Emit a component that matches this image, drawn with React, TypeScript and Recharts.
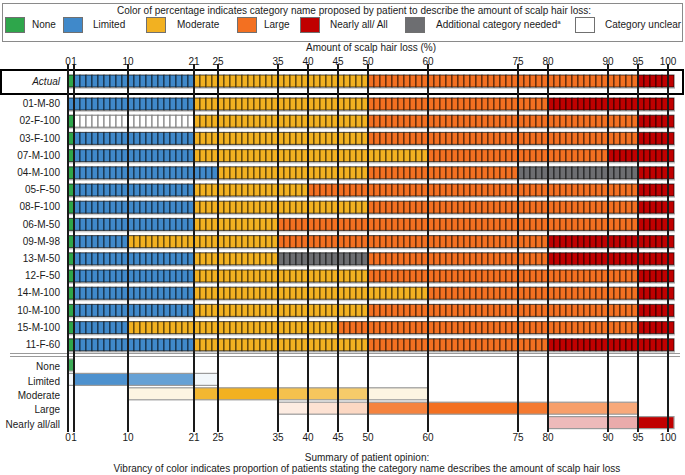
import React from 'react';
import { BarChart, ComposedChart, Bar, XAxis, YAxis, CartesianGrid } from 'recharts';

type Cat = 'None' | 'Limited' | 'Moderate' | 'Large' | 'NearlyAll' | 'Additional' | 'Unclear';

const CAT_COLORS: Record<Cat, string> = {
  None: '#2ea64b',
  Limited: '#4089ca',
  Moderate: '#f2b121',
  Large: '#f37021',
  NearlyAll: '#c00000',
  Additional: '#6d6e71',
  Unclear: '#ffffff',
};

const legendTitle =
  'Color of percentage indicates category name proposed by patient to describe the amount of scalp hair loss:';
const legendCats: Cat[] = ['None', 'Limited', 'Moderate', 'Large', 'NearlyAll', 'Additional', 'Unclear'];
const legendLabels = ['None', 'Limited', 'Moderate', 'Large', 'Nearly all/ All', 'Additional category needed', 'Category unclear'];

const tickValues = [0, 1, 10, 21, 25, 35, 40, 45, 50, 60, 75, 80, 90, 95, 100];
const scaleMax = 101;

// each entry: [category, value where the category starts]
const actualBreaks: [Cat, number][] = [['None', 0], ['Limited', 1], ['Moderate', 21], ['Large', 50], ['NearlyAll', 95]];

const patientIds = [
  '01-M-80', '02-F-100', '03-F-100', '07-M-100', '04-M-100', '05-F-50', '08-F-100', '06-M-50',
  '09-M-98', '13-M-50', '12-F-50', '14-M-100', '10-M-100', '15-M-100', '11-F-60',
];
const patientBreaks: [Cat, number][][] = [
  [['Limited', 0], ['Moderate', 21], ['Large', 50], ['NearlyAll', 80]],
  [['None', 0], ['Unclear', 1], ['Moderate', 21], ['Large', 50], ['NearlyAll', 95]],
  [['None', 0], ['Limited', 1], ['Moderate', 21], ['Large', 50], ['NearlyAll', 95]],
  [['None', 0], ['Limited', 1], ['Moderate', 21], ['Large', 60], ['NearlyAll', 90]],
  [['None', 0], ['Limited', 1], ['Moderate', 25], ['Large', 50], ['Additional', 75], ['NearlyAll', 95]],
  [['None', 0], ['Limited', 1], ['Moderate', 21], ['Large', 40], ['NearlyAll', 95]],
  [['None', 0], ['Limited', 1], ['Moderate', 21], ['Large', 50], ['NearlyAll', 95]],
  [['None', 0], ['Limited', 1], ['Moderate', 21], ['Large', 35], ['NearlyAll', 95]],
  [['None', 0], ['Limited', 1], ['Moderate', 10], ['Large', 35], ['NearlyAll', 80]],
  [['None', 0], ['Limited', 1], ['Moderate', 21], ['Additional', 35], ['Large', 50], ['NearlyAll', 80]],
  [['None', 0], ['Limited', 1], ['Moderate', 21], ['Large', 50], ['NearlyAll', 95]],
  [['None', 0], ['Limited', 1], ['Moderate', 21], ['Large', 60], ['NearlyAll', 95]],
  [['None', 0], ['Limited', 1], ['Moderate', 21], ['Large', 50], ['NearlyAll', 95]],
  [['None', 0], ['Limited', 1], ['Moderate', 10], ['Large', 45], ['NearlyAll', 95]],
  [['None', 0], ['Limited', 1], ['Moderate', 21], ['Large', 50], ['NearlyAll', 80]],
];

// summary: [from, to, proportion of patients]
const summaryLabels = ['None', 'Limited', 'Moderate', 'Large', 'Nearly all/all'];
const summaryCats: Cat[] = ['None', 'Limited', 'Moderate', 'Large', 'NearlyAll'];
const summaryNone: [number, number, number][] = [[0, 1, 0.93]];
const summaryLimited: [number, number, number][] = [[0, 1, 0.07], [1, 10, 0.93], [10, 21, 0.8], [21, 25, 0.07]];
const summaryModerate: [number, number, number][] = [
  [10, 21, 0.13], [21, 25, 0.93], [25, 35, 1], [35, 40, 0.8], [40, 45, 0.73], [45, 50, 0.67], [50, 60, 0.13],
];
const summaryLarge: [number, number, number][] = [
  [35, 40, 0.13], [40, 45, 0.2], [45, 50, 0.27], [50, 60, 0.87], [60, 75, 1], [75, 80, 0.93], [80, 90, 0.67], [90, 95, 0.6],
];
const summaryNearlyAll: [number, number, number][] = [[80, 90, 0.27], [90, 95, 0.33], [95, 101, 1]];
const summarySegments = [summaryNone, summaryLimited, summaryModerate, summaryLarge, summaryNearlyAll];

const FONT = '"Liberation Sans", Arial, Helvetica, sans-serif';
const TEXT = '#1a1a1a';

function breaksToRow(name: string, breaks: [Cat, number][]) {
  const row: any = { name };
  breaks.forEach(([cat, from], i) => {
    const to = i + 1 < breaks.length ? breaks[i + 1][1] : scaleMax;
    row[`len${i}`] = to - from;
    row[`cat${i}`] = cat;
  });
  return row;
}

function summaryToRow(name: string, cat: Cat, segs: [number, number, number][]) {
  const row: any = { name };
  let pos = 0;
  let k = 0;
  segs.forEach(([from, to, p]) => {
    if (from > pos) {
      row[`len${k}`] = from - pos;
      row[`op${k}`] = 0;
      k++;
    }
    row[`len${k}`] = to - from;
    row[`op${k}`] = p;
    row[`cat${k}`] = cat;
    k++;
    pos = to;
  });
  return row;
}

function fillKeys(rows: any[]) {
  const n = Math.max(...rows.map((r) => Object.keys(r).filter((k) => k.startsWith('len')).length));
  rows.forEach((r) => {
    for (let i = 0; i < n; i++) if (r[`len${i}`] === undefined) r[`len${i}`] = 0;
  });
  return n;
}

const actualData = [breaksToRow('Actual', actualBreaks)];
const patientData = patientIds.map((id, i) => breaksToRow(id, patientBreaks[i]));
const summaryData = summaryLabels.map((l, i) => summaryToRow(l, summaryCats[i], summarySegments[i]));
const actualSegCount = fillKeys(actualData);
const patientSegCount = fillKeys(patientData);
const summarySegCount = fillKeys(summaryData);

const cellShape = (i: number) => (props: any) => {
  const { x, y, width, height, payload } = props;
  const n = payload[`len${i}`];
  const cat: Cat | undefined = payload[`cat${i}`];
  if (!n || !cat || !(width > 0)) return <g />;
  const w = width / n;
  const fill = CAT_COLORS[cat];
  const stroke = cat === 'Unclear' ? '#808080' : 'rgba(0,0,0,0.62)';
  return (
    <g>
      <rect x={x} y={y + height} width={width + 1} height={2} fill="#cdcdcd" />
      {Array.from({ length: n }, (_, k) => (
        <rect key={k} x={x + k * w} y={y} width={w} height={height} fill={fill} stroke={stroke} strokeWidth={1.1} />
      ))}
    </g>
  );
};

const summaryShape = (i: number) => (props: any) => {
  const { x, y, width, height, payload } = props;
  const op = payload[`op${i}`];
  const cat: Cat | undefined = payload[`cat${i}`];
  if (!op || !cat || !(width > 0)) return <g />;
  return (
    <rect x={x} y={y} width={width} height={height} fill={CAT_COLORS[cat]} fillOpacity={op} stroke="#9a9a9a" strokeWidth={1.2} />
  );
};

const TopTick = (props: any) => {
  const { x, y, payload } = props;
  return (
    <text x={x} y={y} dy={1} textAnchor="middle" fontSize={10} fill={TEXT}>
      {payload.value}
    </text>
  );
};
const BottomTick = (props: any) => {
  const { x, y, payload } = props;
  return (
    <text x={x} y={y} dy={9} textAnchor="middle" fontSize={10} fill={TEXT}>
      {payload.value}
    </text>
  );
};

const makeRowTick = (italic: boolean, dy: number) => (props: any) => {
  const { x, y, payload } = props;
  return (
    <text x={x} y={y} dy={dy} textAnchor="end" fontSize={10} fill={TEXT} fontStyle={italic ? 'italic' : 'normal'}>
      {payload.value}
    </text>
  );
};

const ROW_MARGIN = { top: 0, right: 11, left: 8, bottom: 0 };

function RowChart({ data, segCount, height, shape, italic, labelDy }: any) {
  return (
    <BarChart width={685} height={height} data={data} layout="vertical" margin={ROW_MARGIN}>
      <XAxis type="number" hide domain={[0, scaleMax]} />
      <YAxis
        type="category"
        dataKey="name"
        width={60}
        tickLine={false}
        axisLine={false}
        interval={0}
        tick={makeRowTick(!!italic, labelDy ?? 3.5)}
      />
      {Array.from({ length: segCount }, (_, i) => (
        <Bar key={i} dataKey={`len${i}`} stackId="r" barSize={12} isAnimationActive={false} shape={shape(i)} />
      ))}
    </BarChart>
  );
}

// vertical guide lines at the tick values, placed with the x axis scale
const guideCoords = (p: any) => {
  const s = p?.xAxis?.scale;
  if (typeof s === 'function') return tickValues.map((v) => s(v));
  if (s && typeof s.map === 'function') return tickValues.map((v) => s.map(v));
  return [];
};

// legend item positions: [square left, text left]
const legendPos = [
  [5, 32], [63, 93], [146, 177], [237, 264], [300, 330], [405, 436], [575, 605],
];

export default function App() {
  return (
    <div style={{ position: 'absolute', left: 0, top: 0, width: 685, height: 475, fontFamily: FONT, color: TEXT, background: '#fff' }}>
      {/* legend */}
      <div
        style={{
          position: 'absolute', left: 2, top: 3, width: 681, height: 39, boxSizing: 'border-box',
          border: '1.5px solid #8a8a8a',
        }}
      />
      <div style={{ position: 'absolute', left: 8, top: 5, width: 692, textAlign: 'center', fontSize: 10, whiteSpace: 'nowrap' }}>
        {legendTitle}
      </div>
      {legendCats.map((c, i) => (
        <React.Fragment key={c}>
          <div
            style={{
              position: 'absolute', left: legendPos[i][0], top: 17, width: 20, height: 16, boxSizing: 'border-box',
              background: CAT_COLORS[c], border: '1px solid #707070',
            }}
          />
          <div style={{ position: 'absolute', left: legendPos[i][1], top: 19, whiteSpace: 'nowrap', fontSize: 10 }}>
            {legendLabels[i]}
            {c === 'Additional' ? <sup style={{ fontSize: 6 }}>a</sup> : null}
          </div>
        </React.Fragment>
      ))}

      {/* Actual box */}
      <div style={{ position: 'absolute', left: 0, top: 69, width: 684, height: 26, boxSizing: 'border-box', border: '2.5px solid #000' }} />

      <div style={{ position: 'absolute', left: 0, top: 67 }}>
        <RowChart data={actualData} segCount={actualSegCount} height={28} shape={cellShape} italic />
      </div>
      <div style={{ position: 'absolute', left: 0, top: 95 }}>
        <RowChart data={patientData} segCount={patientSegCount} height={258} shape={cellShape} />
      </div>

      {/* separator */}
      <div
        style={{
          position: 'absolute', left: 10, top: 353, width: 670, height: 4, boxSizing: 'border-box',
          borderTop: '1.5px solid #9a9a9a', borderBottom: '1.5px solid #9a9a9a',
        }}
      />

      <div style={{ position: 'absolute', left: 0, top: 358 }}>
        <RowChart data={summaryData} segCount={summarySegCount} height={72} shape={summaryShape} labelDy={5} />
      </div>

      {/* axis lines and tick labels */}
      <div style={{ position: 'absolute', left: 0, top: 40 }}>
        <ComposedChart width={685} height={406} margin={{ top: 0, right: 11, left: 68, bottom: 0 }} data={tickValues.map((v) => ({ v }))}>
          <XAxis
            xAxisId="top"
            orientation="top"
            type="number"
            dataKey="v"
            domain={[0, scaleMax]}
            ticks={tickValues}
            interval={0}
            height={24}
            tickLine={false}
            axisLine={false}
            tickSize={0}
            tickMargin={0}
            tick={TopTick}
            label={{ value: 'Amount of scalp hair loss (%)', position: 'insideTop', offset: 4, fontSize: 10, fill: TEXT }}
          />
          <XAxis
            xAxisId="bottom"
            orientation="bottom"
            type="number"
            dataKey="v"
            domain={[0, scaleMax]}
            ticks={tickValues}
            interval={0}
            height={14}
            tickLine={false}
            axisLine={false}
            tickSize={0}
            tickMargin={0}
            tick={BottomTick}
          />
          <YAxis yAxisId="y" hide type="number" domain={[0, 1]} />
          <CartesianGrid
            xAxisId="top"
            yAxisId="y"
            horizontal={false}
            vertical
            verticalCoordinatesGenerator={guideCoords}
            stroke="#1a1a1a"
            strokeWidth={2}
            strokeOpacity={1}
          />
        </ComposedChart>
      </div>

      <div style={{ position: 'absolute', left: 67, top: 452, width: 600, textAlign: 'center', fontSize: 10, lineHeight: '11px' }}>
        <div>Summary of patient opinion:</div>
        <div>Vibrancy of color indicates proportion of patients stating the category name describes the amount of scalp hair loss</div>
      </div>
    </div>
  );
}
